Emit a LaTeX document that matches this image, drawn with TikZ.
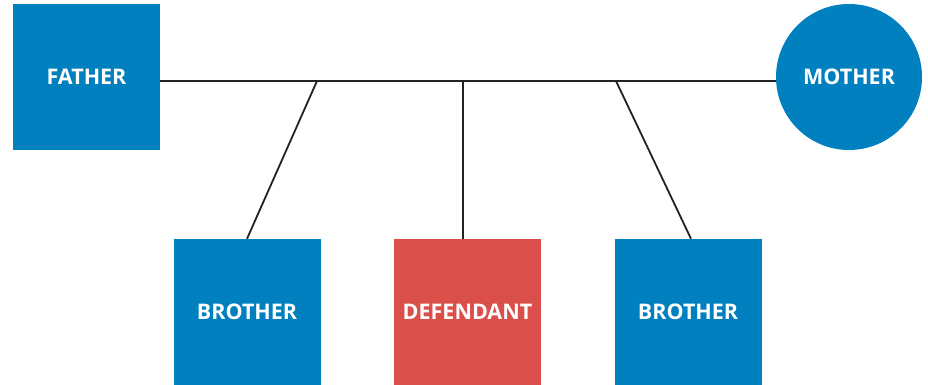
\documentclass[tikz,border=0pt]{standalone}
\usepackage{fontspec}
\setmainfont{Open Sans}
\definecolor{boxblue}{HTML}{0080BF}
\definecolor{boxred}{HTML}{DB4F4A}
\definecolor{linegray}{HTML}{222222}
\begin{document}
\begin{tikzpicture}[x=1pt,y=-1pt,
  person/.style={fill=boxblue,draw=none,text=white,font=\bfseries\fontsize{21.5}{24}\selectfont,inner sep=0pt},
  sq/.style={person,rectangle,minimum width=147pt,minimum height=146pt},
  circ/.style={person,circle,minimum size=146pt},
  link/.style={draw=linegray,line width=1.8pt}]
\useasboundingbox (0,0) rectangle (928,385);
\node[sq] (father) at (86.5,77) {FATHER};
\node[circ] (mother) at (849,77) {MOTHER};
\node[sq] (bro1) at (247,312) {BROTHER};
\node[sq,fill=boxred] (def) at (467.5,312) {DEFENDANT};
\node[sq] (bro2) at (688,312) {BROTHER};
\coordinate (j1) at (317,81);
\coordinate (j2) at (463,81);
\coordinate (j3) at (616,81);
\draw[link] (father.east |- j1) -- (mother.west |- j1);
\draw[link] (j1) -- (bro1.north);
\draw[link] (j2) -- (j2 |- def.north);
\draw[link] (j3) -- ([xshift=3pt]bro2.north);
\end{tikzpicture}
\end{document}
